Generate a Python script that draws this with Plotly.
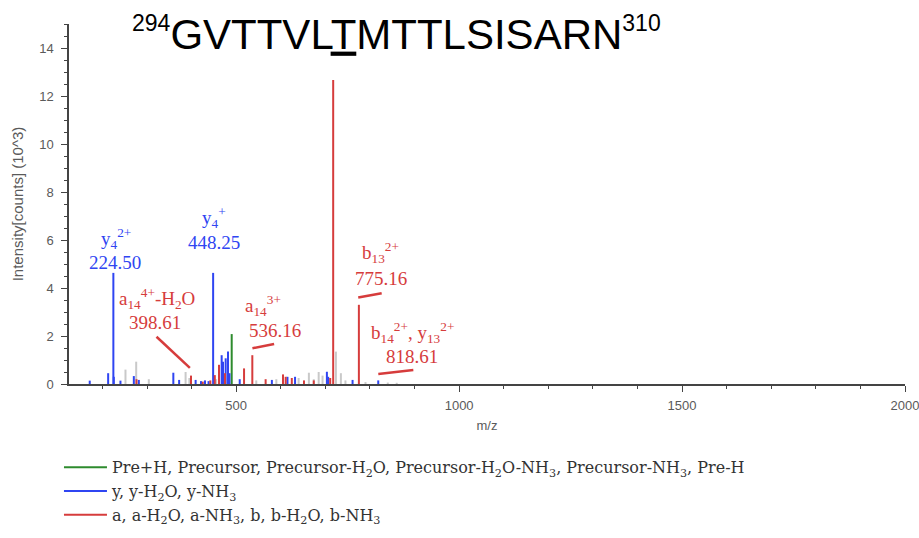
import plotly.graph_objects as go

# ---------------- data ----------------
green_mz = [489.9]
green_int = [2.08]

blue_mz = [171.5, 212.8, 224.5, 225.5, 240.4, 270.4, 281.6, 359.0, 372.0, 409.0, 421.0, 430.0,
           438.0, 448.25, 467.4, 470.4, 476.4, 481.6, 485.0, 507.9, 580.0, 615.0, 632.0,
           703.4, 706.3, 761.0, 818.6]
blue_int = [0.14, 0.45, 4.63, 0.30, 0.14, 0.33, 0.17, 0.47, 0.17, 0.17, 0.12, 0.15,
            0.12, 4.63, 1.20, 0.93, 1.07, 1.35, 0.45, 0.20, 0.17, 0.30, 0.30,
            0.51, 0.30, 0.17, 0.15]

red_mz = [276.4, 398.61, 425.0, 442.0, 452.0, 461.4, 474.8, 517.6, 536.16, 566.0, 605.0,
          611.0, 624.7, 652.0, 674.0, 710.8, 717.5, 775.16]
red_int = [0.20, 0.35, 0.10, 0.15, 0.37, 0.80, 0.45, 0.65, 1.20, 0.20, 0.40,
           0.30, 0.25, 0.15, 0.15, 0.25, 12.67, 3.30]

gray_mz = [251.7, 275.7, 304.0, 386.5, 395.0, 455.0, 545.0, 590.0, 640.0, 663.0, 674.0,
           685.0, 693.7, 723.6, 734.8, 745.0, 790.0, 840.0, 860.0]
gray_int = [0.60, 0.93, 0.20, 0.50, 0.25, 0.20, 0.15, 0.20, 0.25, 0.47, 0.20,
            0.50, 0.35, 1.35, 0.45, 0.15, 0.08, 0.06, 0.05]

legend_names = [
    "Pre+H, Precursor, Precursor-H<sub>2</sub>O, Precursor-H<sub>2</sub>O-NH<sub>3</sub>, Precursor-NH<sub>3</sub>, Pre-H",
    "y, y-H<sub>2</sub>O, y-NH<sub>3</sub>",
    "a, a-H<sub>2</sub>O, a-NH<sub>3</sub>, b, b-H<sub>2</sub>O, b-NH<sub>3</sub>",
]

BLUE = "#2f45f2"
RED = "#d63c3c"
# peak labels: (ion label, value text, ion x, ion y, value x, value y, color)
labels = [
    ("y<sub>4</sub><sup>2+</sup>", "224.50", 231.5, 6.08, 229.2, 5.08, BLUE),
    ("y<sub>4</sub><sup>+</sup>", "448.25", 449.4, 6.92, 449.4, 5.88, BLUE),
    ("a<sub>14</sub><sup>4+</sup>-H<sub>2</sub>O", "398.61", 321.3, 3.58, 316.9, 2.58, RED),
    ("a<sub>14</sub><sup>3+</sup>", "536.16", 559.6, 3.29, 586.5, 2.21, RED),
    ("b<sub>13</sub><sup>2+</sup>", "775.16", 824.7, 5.46, 824.7, 4.38, RED),
    ("b<sub>14</sub><sup>2+</sup>, y<sub>13</sub><sup>2+</sup>", "818.61", 894.4, 2.13, 894.4, 1.13, RED),
]
# connector segments (m/z0, y0, m/z1, y1)
connectors = [
    (321.3, 1.97, 396.1, 0.67),
    (536.4, 1.49, 585.0, 1.67),
    (773.7, 3.60, 826.3, 3.78),
    (818.7, 0.42, 897.3, 0.58),
]


def stems(mz, inten):
    xs, ys = [], []
    for m, h in zip(mz, inten):
        xs += [m, m, None]
        ys += [0, h, None]
    return xs, ys


fig = go.Figure()

gx, gy = stems(gray_mz, gray_int)
fig.add_trace(go.Scatter(x=gx, y=gy, mode="lines", line=dict(color="#c9c9c9", width=2),
                         showlegend=False, hoverinfo="skip"))

for mz, it, col, name in [(green_mz, green_int, "#2e8b2e", legend_names[0]),
                          (blue_mz, blue_int, BLUE, legend_names[1]),
                          (red_mz, red_int, RED, legend_names[2])]:
    x, y = stems(mz, it)
    fig.add_trace(go.Scatter(x=x, y=y, mode="lines", name=name,
                             line=dict(color=col, width=2), legendgroup=name))

for ion, val, x1, y1, x2, y2, col in labels:
    fig.add_annotation(x=x1, y=y1, xref="x", yref="y", text=ion, showarrow=False,
                       font=dict(family="Liberation Serif", size=19, color=col))
    fig.add_annotation(x=x2, y=y2, xref="x", yref="y", text=val, showarrow=False,
                       font=dict(family="Liberation Serif", size=19, color=col))

for x0, y0, x1, y1 in connectors:
    fig.add_shape(type="line", x0=x0, y0=y0, x1=x1, y1=y1, xref="x", yref="y",
                  line=dict(color=RED, width=2.5))

sup = '<span style="font-size:23px">'
fig.add_annotation(x=0.392, y=1.045, xref="paper", yref="paper",
                   text=f"<sup>{sup}294</span></sup>GVTTVL<u>T</u>MTTLSISARN<sup>{sup}310</span></sup>",
                   showarrow=False,
                   font=dict(family="Liberation Sans", size=42, color="#000000"))

axis_font = dict(family="Liberation Sans", size=13, color="#5a5a5a")
fig.update_xaxes(range=[125, 2000], tickvals=[500, 1000, 1500, 2000],
                 ticks="outside", ticklen=6, tickcolor="#444", tickwidth=1,
                 minor=dict(dtick=100, tick0=0, ticks="outside", ticklen=3, tickcolor="#444"),
                 showline=True, linecolor="#444", linewidth=1.5, automargin=False,
                 ticklabeloverflow="allow", ticklabelstandoff=3,
                 showgrid=False, zeroline=False, tickfont=axis_font,
                 title=dict(text="m/z", font=dict(family="Liberation Sans", size=13, color="#5a5a5a"),
                            standoff=9))
fig.update_yaxes(range=[0, 15], dtick=2, tick0=0,
                 ticks="outside", ticklen=6, tickcolor="#444", tickwidth=1,
                 minor=dict(dtick=0.5, tick0=0, ticks="outside", ticklen=3, tickcolor="#444"),
                 showline=True, linecolor="#444", linewidth=1.5, automargin=False,
                 ticklabeloverflow="allow", ticklabelstandoff=5,
                 showgrid=False, zeroline=False, tickfont=axis_font,
                 title=dict(text="Intensity[counts] (10^3)",
                            font=dict(family="Liberation Sans", size=15, color="#5a5a5a"),
                            standoff=12))

fig.update_layout(
    width=919, height=538,
    margin=dict(l=69, r=14, t=24, b=154, autoexpand=False),
    paper_bgcolor="white", plot_bgcolor="white",
    showlegend=True,
    legend=dict(x=-0.012, y=-0.184, xanchor="left", yanchor="top",
                orientation="v", traceorder="normal", tracegroupgap=0, itemwidth=43,
                font=dict(family="DejaVu Serif", size=16, color="#333333"),
                bgcolor="rgba(0,0,0,0)"),
)

fig.write_html("out.html")
